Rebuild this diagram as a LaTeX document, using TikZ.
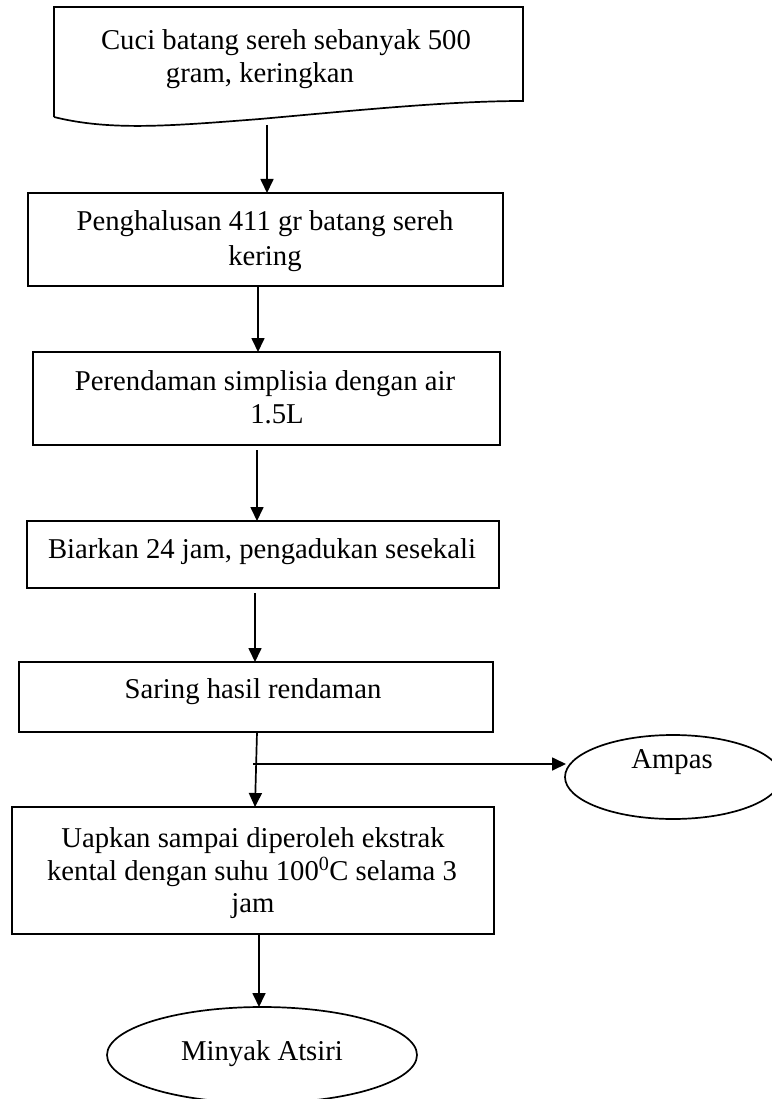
\documentclass[tikz,border=0pt]{standalone}
\usepackage{fontspec}
\setmainfont{Liberation Serif}
\usetikzlibrary{arrows.meta,shapes.geometric}
\begin{document}
\begin{tikzpicture}[x=1pt,y=-1pt,
  line width=1.7pt,
  every node/.style={inner sep=0pt, outer sep=0pt},
  txt/.style={anchor=base, font=\fontsize{28.7}{33}\selectfont},
  box/.style={draw, rectangle},
  oval/.style={draw, ellipse},
  arr/.style={-{Triangle[length=14pt,width=13pt]}}]
\useasboundingbox (0,0) rectangle (771,1099);
% box 1 (document shape)
\draw (54,117) -- (54,7) -- (523,7) -- (523,101)
  .. controls (450,101) and (360,110) .. (260,119)
  .. controls (170,126) and (110,131) .. (54,117);
\node[txt] (t1a) at (286,50) {Cuci batang sereh sebanyak 500};
\node[txt] (t1b) at (260,83) {gram, keringkan};
% box 2
\node[box, minimum width=475pt, minimum height=93pt] (b2) at (265.5,239.5) {};
\node[txt] (t2a) at (265,230) {Penghalusan 411 gr batang sereh};
\node[txt] (t2b) at (265,265) {kering};
% box 3
\node[box, minimum width=467pt, minimum height=93pt] (b3) at (266.5,398.5) {};
\node[txt] (t3a) at (265,390) {Perendaman simplisia dengan air};
\node[txt] (t3b) at (277,423) {1.5L};
% box 4
\node[box, minimum width=472pt, minimum height=67pt] (b4) at (263,554.5) {};
\node[txt] (t4a) at (262,558) {Biarkan 24 jam, pengadukan sesekali};
% box 5
\node[box, minimum width=474pt, minimum height=70pt] (b5) at (256,697) {};
\node[txt] (t5a) at (253,698) {Saring hasil rendaman};
% box 6
\node[box, minimum width=482pt, minimum height=127pt] (b6) at (253,870.5) {};
\node[txt] (t6a) at (253,847) {Uapkan sampai diperoleh ekstrak};
\node[txt] (t6b) at (252,880) {kental dengan suhu 100\textsuperscript{0}C selama 3};
\node[txt] (t6c) at (253,912) {jam};
% ellipses
\node[oval, minimum width=216pt, minimum height=84pt] (amp) at (673,777) {};
\node[txt] (tamp) at (672,768) {Ampas};
\node[oval, minimum width=310pt, minimum height=96pt] (min) at (262,1055) {};
\node[txt] (tmin) at (262,1060) {Minyak Atsiri};
% connectors
\coordinate (a1) at (267,125);
\draw[arr] (a1) -- (a1 |- b2.north);
\coordinate (a2) at (258,286);
\draw[arr] (a2) -- (a2 |- b3.north);
\coordinate (a3) at (257,450);
\draw[arr] (a3) -- (a3 |- b4.north);
\coordinate (a4) at (255,593);
\draw[arr] (a4) -- (a4 |- b5.north);
\coordinate (a5) at (257,732);
\coordinate (a5e) at (255,807);
\draw[arr] (a5) -- (a5e);
\coordinate (j) at (253,764);
\coordinate (je) at (566,764);
\draw[arr] (j) -- (je);
\coordinate (a6) at (259,934);
\draw[arr] (a6) -- (a6 |- min.north);
\end{tikzpicture}
\end{document}
